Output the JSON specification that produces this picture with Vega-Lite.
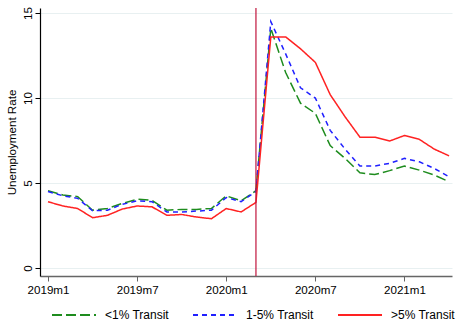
{
  "$schema": "https://vega.github.io/schema/vega-lite/v6.json",
  "width": 412,
  "height": 268,
  "autosize": "none",
  "padding": {"left": 40, "top": 8, "right": 4, "bottom": 46},
  "background": "white",
  "config": {"font": "Liberation Sans", "view": {"stroke": null}},
  "datasets": {
    "series": [
      {"t": 0, "group": "<1% Transit", "rate": 4.55}, {"t": 0, "group": "1-5% Transit", "rate": 4.5}, {"t": 0, "group": ">5% Transit", "rate": 3.9},
      {"t": 1, "group": "<1% Transit", "rate": 4.3}, {"t": 1, "group": "1-5% Transit", "rate": 4.25}, {"t": 1, "group": ">5% Transit", "rate": 3.65},
      {"t": 2, "group": "<1% Transit", "rate": 4.2}, {"t": 2, "group": "1-5% Transit", "rate": 4.1}, {"t": 2, "group": ">5% Transit", "rate": 3.5},
      {"t": 3, "group": "<1% Transit", "rate": 3.4}, {"t": 3, "group": "1-5% Transit", "rate": 3.37}, {"t": 3, "group": ">5% Transit", "rate": 2.96},
      {"t": 4, "group": "<1% Transit", "rate": 3.5}, {"t": 4, "group": "1-5% Transit", "rate": 3.4}, {"t": 4, "group": ">5% Transit", "rate": 3.1},
      {"t": 5, "group": "<1% Transit", "rate": 3.8}, {"t": 5, "group": "1-5% Transit", "rate": 3.75}, {"t": 5, "group": ">5% Transit", "rate": 3.47},
      {"t": 6, "group": "<1% Transit", "rate": 4.05}, {"t": 6, "group": "1-5% Transit", "rate": 3.95}, {"t": 6, "group": ">5% Transit", "rate": 3.65},
      {"t": 7, "group": "<1% Transit", "rate": 3.98}, {"t": 7, "group": "1-5% Transit", "rate": 3.9}, {"t": 7, "group": ">5% Transit", "rate": 3.6},
      {"t": 8, "group": "<1% Transit", "rate": 3.4}, {"t": 8, "group": "1-5% Transit", "rate": 3.3}, {"t": 8, "group": ">5% Transit", "rate": 3.1},
      {"t": 9, "group": "<1% Transit", "rate": 3.45}, {"t": 9, "group": "1-5% Transit", "rate": 3.3}, {"t": 9, "group": ">5% Transit", "rate": 3.15},
      {"t": 10, "group": "<1% Transit", "rate": 3.45}, {"t": 10, "group": "1-5% Transit", "rate": 3.35}, {"t": 10, "group": ">5% Transit", "rate": 3.0},
      {"t": 11, "group": "<1% Transit", "rate": 3.5}, {"t": 11, "group": "1-5% Transit", "rate": 3.4}, {"t": 11, "group": ">5% Transit", "rate": 2.9},
      {"t": 12, "group": "<1% Transit", "rate": 4.25}, {"t": 12, "group": "1-5% Transit", "rate": 4.15}, {"t": 12, "group": ">5% Transit", "rate": 3.5},
      {"t": 13, "group": "<1% Transit", "rate": 3.95}, {"t": 13, "group": "1-5% Transit", "rate": 3.9}, {"t": 13, "group": ">5% Transit", "rate": 3.3},
      {"t": 14, "group": "<1% Transit", "rate": 4.55}, {"t": 14, "group": "1-5% Transit", "rate": 4.5}, {"t": 14, "group": ">5% Transit", "rate": 3.86},
      {"t": 15, "group": "<1% Transit", "rate": 14.1}, {"t": 15, "group": "1-5% Transit", "rate": 14.5}, {"t": 15, "group": ">5% Transit", "rate": 13.6},
      {"t": 16, "group": "<1% Transit", "rate": 11.5}, {"t": 16, "group": "1-5% Transit", "rate": 12.6}, {"t": 16, "group": ">5% Transit", "rate": 13.6},
      {"t": 17, "group": "<1% Transit", "rate": 9.7}, {"t": 17, "group": "1-5% Transit", "rate": 10.6}, {"t": 17, "group": ">5% Transit", "rate": 12.9},
      {"t": 18, "group": "<1% Transit", "rate": 9.1}, {"t": 18, "group": "1-5% Transit", "rate": 10.0}, {"t": 18, "group": ">5% Transit", "rate": 12.1},
      {"t": 19, "group": "<1% Transit", "rate": 7.2}, {"t": 19, "group": "1-5% Transit", "rate": 8.1}, {"t": 19, "group": ">5% Transit", "rate": 10.2},
      {"t": 20, "group": "<1% Transit", "rate": 6.45}, {"t": 20, "group": "1-5% Transit", "rate": 7.0}, {"t": 20, "group": ">5% Transit", "rate": 8.9},
      {"t": 21, "group": "<1% Transit", "rate": 5.6}, {"t": 21, "group": "1-5% Transit", "rate": 6.0}, {"t": 21, "group": ">5% Transit", "rate": 7.7},
      {"t": 22, "group": "<1% Transit", "rate": 5.5}, {"t": 22, "group": "1-5% Transit", "rate": 6.0}, {"t": 22, "group": ">5% Transit", "rate": 7.7},
      {"t": 23, "group": "<1% Transit", "rate": 5.73}, {"t": 23, "group": "1-5% Transit", "rate": 6.16}, {"t": 23, "group": ">5% Transit", "rate": 7.47},
      {"t": 24, "group": "<1% Transit", "rate": 6.0}, {"t": 24, "group": "1-5% Transit", "rate": 6.45}, {"t": 24, "group": ">5% Transit", "rate": 7.8},
      {"t": 25, "group": "<1% Transit", "rate": 5.76}, {"t": 25, "group": "1-5% Transit", "rate": 6.25}, {"t": 25, "group": ">5% Transit", "rate": 7.57},
      {"t": 26, "group": "<1% Transit", "rate": 5.47}, {"t": 26, "group": "1-5% Transit", "rate": 5.86}, {"t": 26, "group": ">5% Transit", "rate": 7.0},
      {"t": 27, "group": "<1% Transit", "rate": 5.08}, {"t": 27, "group": "1-5% Transit", "rate": 5.37}, {"t": 27, "group": ">5% Transit", "rate": 6.6}
    ],
    "event": [{"t": 14}]
  },
  "layer": [
    {
      "data": {"name": "series"},
      "mark": {"type": "line", "strokeWidth": 1.5, "clip": true},
      "encoding": {
        "x": {
          "field": "t", "type": "quantitative",
          "scale": {"domain": [-0.54, 27.2], "nice": false, "zero": false},
          "axis": {
            "title": null, "values": [0, 6, 12, 18, 24],
            "labelExpr": "(floor(datum.value / 12) + 2019) + 'm' + (datum.value % 12 + 1)",
            "grid": false, "domainColor": "#666666", "domainWidth": 1.5,
            "tickColor": "#666666", "tickSize": 5, "tickWidth": 1,
            "labelFontSize": 11.6, "labelColor": "#000000", "labelPadding": 3, "labelFlush": false
          }
        },
        "y": {
          "field": "rate", "type": "quantitative",
          "scale": {"domain": [-0.47, 15.3], "nice": false, "zero": false},
          "axis": {
            "title": "Unemployment Rate", "titleFontSize": 11.6, "titleFontWeight": "normal", "titleColor": "#000000", "titlePadding": 5,
            "values": [0, 5, 10, 15], "grid": true, "gridColor": "#e8f0f1", "gridWidth": 1,
            "domainColor": "#000000", "domainWidth": 1.2, "tickColor": "#000000", "tickSize": 5,
            "labelAngle": 270, "labelAlign": "center", "labelBaseline": "bottom",
            "labelFontSize": 11.6, "labelColor": "#000000", "labelPadding": 2
          }
        },
        "color": {
          "field": "group", "type": "nominal",
          "scale": {"domain": ["<1% Transit", "1-5% Transit", ">5% Transit"], "range": ["#1e8c1e", "#2020ff", "#ff2222"]},
          "legend": {
            "title": null, "orient": "none", "legendX": 11, "legendY": 284, "direction": "horizontal",
            "symbolType": "stroke", "symbolSize": 1936, "symbolStrokeWidth": 1.8,
            "labelFontSize": 12, "labelColor": "#000000", "labelOffset": 8, "columnPadding": 20, "padding": 0
          }
        },
        "strokeDash": {
          "field": "group", "type": "nominal",
          "scale": {"domain": ["<1% Transit", "1-5% Transit", ">5% Transit"], "range": [[10, 4], [5, 4], [1, 0]]},
          "legend": {
            "title": null, "orient": "none", "legendX": 11, "legendY": 284, "direction": "horizontal",
            "symbolType": "stroke", "symbolSize": 1936, "symbolStrokeWidth": 1.8,
            "labelFontSize": 12, "labelColor": "#000000", "labelOffset": 8, "columnPadding": 20, "padding": 0
          }
        }
      }
    },
    {
      "data": {"name": "event"},
      "mark": {"type": "rule", "color": "#c0143c", "strokeWidth": 1.2},
      "encoding": {"x": {"field": "t", "type": "quantitative"}}
    }
  ]
}
